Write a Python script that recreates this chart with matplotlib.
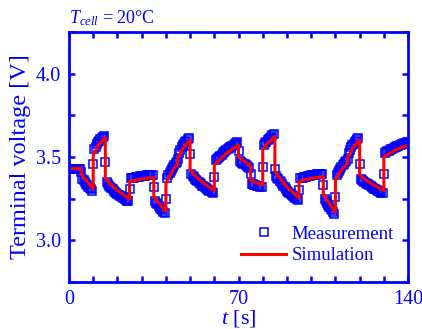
import numpy as np
import matplotlib
matplotlib.use('Agg')
import matplotlib.pyplot as plt

plt.rcParams['font.family'] = ['Liberation Serif', 'DejaVu Serif']
plt.rcParams['mathtext.fontset'] = 'custom'
plt.rcParams['mathtext.rm'] = 'Liberation Serif'
plt.rcParams['mathtext.it'] = 'Liberation Serif:italic'

BLUE = '#0000ff'
RED = '#ff0000'

# simulated terminal voltage, breakpoints (time [s], voltage [V])
sim_t = [0, 5, 5, 6, 10, 10, 12, 15, 15, 16, 20, 25, 25, 30, 35, 35, 36, 40,
         40, 43, 45, 45, 47, 50, 50, 51, 55, 60, 60, 65, 70, 70, 75, 75, 80,
         80, 82, 85, 85, 86, 90, 95, 95, 100, 105, 105, 106, 110, 110, 113,
         115, 115, 117, 120, 120, 121, 125, 130, 130, 135, 140]
sim_v = [3.43, 3.43, 3.398, 3.378, 3.308, 3.512, 3.567, 3.617, 3.378, 3.353,
         3.298, 3.248, 3.352, 3.367, 3.377, 3.268, 3.243, 3.173, 3.342, 3.422,
         3.462, 3.492, 3.552, 3.602, 3.428, 3.403, 3.348, 3.298, 3.452, 3.522,
         3.572, 3.498, 3.448, 3.358, 3.333, 3.542, 3.582, 3.622, 3.418, 3.393,
         3.318, 3.253, 3.352, 3.372, 3.382, 3.278, 3.253, 3.168, 3.362, 3.432,
         3.462, 3.492, 3.552, 3.602, 3.398, 3.378, 3.338, 3.298, 3.502, 3.542,
         3.572]

# measured terminal voltage, one sample every 0.5 s (one row = 5 s)
meas_t = np.arange(0, 140.5, 0.5)
meas_v = [
    3.43, 3.43, 3.43, 3.43, 3.43, 3.43, 3.43, 3.43, 3.43, 3.43,
    3.41, 3.37, 3.36, 3.35, 3.34, 3.33, 3.32, 3.312, 3.305, 3.297,
    3.46, 3.545, 3.56, 3.575, 3.59, 3.598, 3.605, 3.612, 3.62, 3.628,
    3.47, 3.35, 3.335, 3.328, 3.32, 3.312, 3.305, 3.298, 3.29, 3.284,
    3.278, 3.273, 3.268, 3.263, 3.258, 3.253, 3.248, 3.243, 3.238, 3.233,
    3.31, 3.371, 3.373, 3.375, 3.376, 3.378, 3.379, 3.381, 3.382, 3.384,
    3.385, 3.386, 3.387, 3.388, 3.389, 3.39, 3.391, 3.392, 3.393, 3.394,
    3.32, 3.235, 3.225, 3.215, 3.205, 3.196, 3.188, 3.179, 3.17, 3.162,
    3.25, 3.375, 3.39, 3.402, 3.415, 3.428, 3.442, 3.452, 3.462, 3.47,
    3.485, 3.525, 3.542, 3.557, 3.572, 3.58, 3.589, 3.597, 3.605, 3.612,
    3.52, 3.395, 3.385, 3.378, 3.37, 3.363, 3.356, 3.349, 3.342, 3.335,
    3.328, 3.323, 3.318, 3.313, 3.308, 3.303, 3.298, 3.293, 3.288, 3.283,
    3.38, 3.479, 3.486, 3.493, 3.50, 3.507, 3.514, 3.521, 3.528, 3.535,
    3.542, 3.547, 3.552, 3.557, 3.562, 3.567, 3.572, 3.577, 3.582, 3.587,
    3.535, 3.475, 3.47, 3.465, 3.46, 3.455, 3.45, 3.445, 3.44, 3.435,
    3.40, 3.338, 3.335, 3.333, 3.33, 3.328, 3.325, 3.323, 3.32, 3.318,
    3.44, 3.572, 3.582, 3.592, 3.602, 3.608, 3.615, 3.622, 3.629, 3.636,
    3.43, 3.385, 3.375, 3.366, 3.356, 3.347, 3.337, 3.328, 3.318, 3.308,
    3.298, 3.292, 3.285, 3.279, 3.272, 3.266, 3.259, 3.253, 3.246, 3.24,
    3.30, 3.372, 3.374, 3.376, 3.378, 3.38, 3.382, 3.384, 3.386, 3.388,
    3.39, 3.391, 3.392, 3.393, 3.394, 3.395, 3.396, 3.397, 3.398, 3.399,
    3.33, 3.245, 3.235, 3.223, 3.212, 3.201, 3.19, 3.179, 3.168, 3.158,
    3.26, 3.39, 3.405, 3.417, 3.429, 3.44, 3.452, 3.46, 3.467, 3.474,
    3.49, 3.525, 3.542, 3.557, 3.572, 3.58, 3.589, 3.597, 3.605, 3.612,
    3.46, 3.37, 3.36, 3.355, 3.35, 3.345, 3.34, 3.335, 3.33, 3.325,
    3.32, 3.315, 3.31, 3.306, 3.302, 3.298, 3.294, 3.29, 3.286, 3.282,
    3.40, 3.526, 3.53, 3.534, 3.538, 3.542, 3.546, 3.55, 3.554, 3.558,
    3.562, 3.565, 3.568, 3.571, 3.574, 3.577, 3.58, 3.583, 3.586, 3.589,
    3.592,
]

fig = plt.figure(figsize=(4.22, 3.29), dpi=100)
ax = fig.add_axes([0.1635, 0.143, 0.8035, 0.76])

ax.plot(meas_t, meas_v, linestyle='none', marker='s', markersize=6,
        markerfacecolor='none', markeredgecolor=BLUE, markeredgewidth=1.1,
        label='Measurement')
ax.plot(sim_t, sim_v, color=RED, linewidth=2.2, label='Simulation')

ax.set_xlim(0, 140)
ax.set_ylim(2.75, 4.25)
ax.set_xticks(np.arange(0, 141, 10))
ax.set_xticklabels(['0' if t == 0 else str(t) if t in (70, 140) else ''
                    for t in range(0, 141, 10)])
ax.set_yticks(np.arange(2.75, 4.26, 0.25))
ax.set_yticklabels(['', '3.0', '', '3.5', '', '4.0', ''])

for s in ax.spines.values():
    s.set_color(BLUE)
    s.set_linewidth(2.0)
ax.tick_params(direction='in', length=4, width=1.8, color=BLUE,
               labelcolor=BLUE, labelsize=14.5, top=True, right=True, pad=6)

ax.set_xlabel('$t$ [s]', color=BLUE, fontsize=16, labelpad=-1)
ax.set_ylabel('Terminal voltage [V]', color=BLUE, fontsize=17.5, labelpad=3)
fig.text(0.163, 0.945, '$T_{cell}$ = 20°C', color=BLUE, fontsize=13,
         ha='left', va='center')

leg = ax.legend(loc='lower right', bbox_to_anchor=(0.981, 0.04),
                frameon=False, fontsize=13.5, handlelength=2.4,
                handletextpad=0.3, labelspacing=0.25, borderaxespad=0.0,
                numpoints=1)
for txt in leg.get_texts():
    txt.set_color(BLUE)

fig.savefig('out.png', dpi=100)
